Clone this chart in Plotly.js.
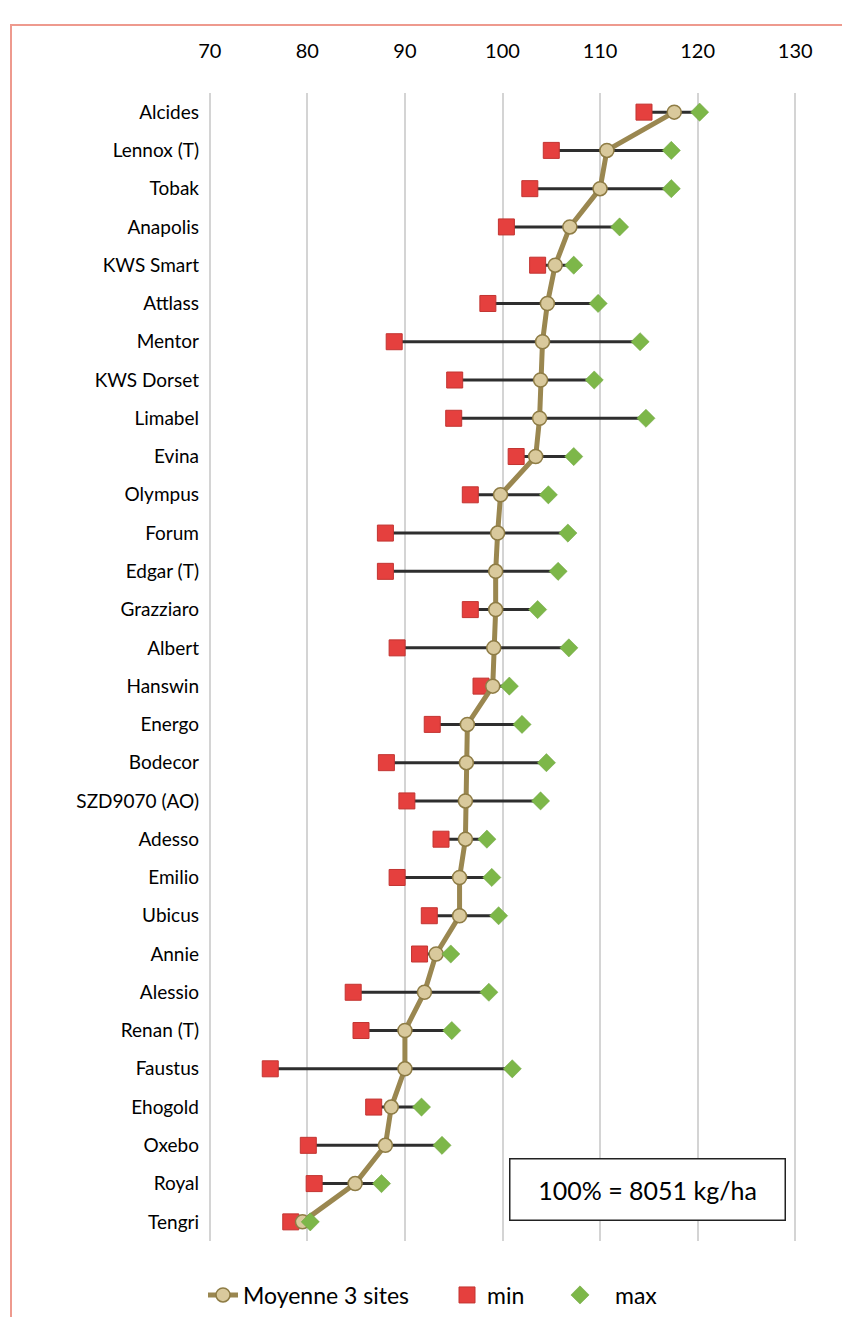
<!DOCTYPE html>
<html>
<head>
<meta charset="utf-8">
<script src="https://cdn.plot.ly/plotly-3.0.1.min.js"></script>
<style>
  html, body { margin: 0; padding: 0; background: #ffffff; }
  #wrap { position: relative; width: 842px; height: 1317px; overflow: hidden; }
  #chart { position: absolute; left: 0; top: 0; width: 842px; height: 1317px; }
  #frame { position: absolute; left: 10px; top: 24px; width: 900px; height: 1400px;
           border-left: 2px solid #EE9A8E; border-top: 2px solid #EE9A8E; pointer-events: none; }
</style>
</head>
<body>
<div id="wrap">
  <div id="chart"></div>
  <div id="frame"></div>
</div>
<script>
const varieties = ['Alcides','Lennox (T)','Tobak','Anapolis','KWS Smart','Attlass','Mentor','KWS Dorset','Limabel','Evina','Olympus','Forum','Edgar (T)','Grazziaro','Albert','Hanswin','Energo','Bodecor','SZD9070 (AO)','Adesso','Emilio','Ubicus','Annie','Alessio','Renan (T)','Faustus','Ehogold','Oxebo','Royal','Tengri'];
const meanVals = [117.6,110.7,110.0,106.9,105.4,104.6,104.1,103.9,103.8,103.4,99.8,99.5,99.3,99.3,99.1,99.0,96.4,96.3,96.2,96.2,95.6,95.6,93.2,92.0,90.0,90.0,88.6,88.0,84.9,79.5];
const minVals = [114.5,105.0,102.8,100.4,103.6,98.5,88.9,95.1,95.0,101.4,96.7,88.0,88.0,96.7,89.2,97.8,92.8,88.1,90.2,93.7,89.2,92.5,91.5,84.7,85.5,76.2,86.8,80.1,80.7,78.3];
const maxVals = [120.2,117.3,117.3,112.0,107.3,109.8,114.1,109.4,114.7,107.3,104.7,106.7,105.7,103.6,106.8,100.7,102.0,104.5,103.9,98.4,98.9,99.6,94.7,98.6,94.8,101.0,91.7,93.8,87.6,80.3];
const xTicks = [70,80,90,100,110,120,130];
const noteText = '100% = 8051 kg/ha';
const seriesNames = ['Moyenne 3 sites','min','max'];

const FONT = 'Lato, "Open Sans", sans-serif';

// range connectors (min -> max) built from the data arrays
const segX = [], segY = [];
varieties.forEach((v, i) => { segX.push(minVals[i], maxVals[i], null); segY.push(v, v, null); });

const traces = [
  { type: 'scatter', mode: 'lines', x: segX, y: segY, showlegend: false, hoverinfo: 'skip',
    line: { color: '#2e2e2e', width: 3 } },
  { type: 'scatter', mode: 'markers', name: seriesNames[1], x: minVals, y: varieties, legend: 'legend2',
    marker: { symbol: 'square', size: 16, color: '#E5403E', line: { color: '#C23431', width: 1 } } },
  { type: 'scatter', mode: 'lines+markers', name: seriesNames[0], x: meanVals, y: varieties, legend: 'legend',
    line: { color: '#9A8750', width: 5 },
    marker: { symbol: 'circle', size: 14, color: '#D9C99C', line: { color: '#8E7C45', width: 1.5 } } },
  { type: 'scatter', mode: 'markers', name: seriesNames[2], x: maxVals, y: varieties, legend: 'legend3',
    marker: { symbol: 'diamond', size: 14, color: '#7DB749', line: { color: '#6EA23F', width: 0.5 } } }
];

// plot spans 69..131 so that the 70 and 130 gridlines are drawn; 9.75 px per unit
const PX = 9.75;
const legFont = { family: FONT, size: 23, color: '#000' };
const layout = {
  width: 842, height: 1317,
  margin: { l: 210 - PX, r: 47 - PX, t: 93, b: 76 },
  paper_bgcolor: '#ffffff', plot_bgcolor: '#ffffff',
  font: { family: FONT, color: '#000' },
  xaxis: {
    side: 'top', range: [69, 131], tickvals: xTicks, ticktext: xTicks.map(String),
    showgrid: true, gridcolor: '#D4D4D4', gridwidth: 2, zeroline: false, showline: false,
    ticks: '', ticklabelstandoff: 30, tickfont: { family: FONT, size: 20, color: '#000' }, fixedrange: true
  },
  yaxis: {
    type: 'category', categoryorder: 'array', categoryarray: varieties,
    range: [varieties.length - 0.5, -0.5],
    showgrid: false, zeroline: false, showline: false, ticks: '', ticklabelstandoff: 9 + PX,
    tickfont: { family: FONT, size: 19, color: '#000' }, fixedrange: true
  },
  legend:  { orientation: 'h', xref: 'container', yref: 'container', x: 203/842, y: 1 - 1295/1317,
             xanchor: 'left', yanchor: 'middle', font: legFont, bgcolor: 'rgba(0,0,0,0)', borderwidth: 0 },
  legend2: { orientation: 'h', xref: 'container', yref: 'container', x: 447/842, y: 1 - 1295/1317,
             xanchor: 'left', yanchor: 'middle', font: legFont, bgcolor: 'rgba(0,0,0,0)', borderwidth: 0 },
  legend3: { orientation: 'h', xref: 'container', yref: 'container', x: 545/842, y: 1 - 1295/1317,
             xanchor: 'left', yanchor: 'middle', font: legFont, bgcolor: 'rgba(0,0,0,0)', borderwidth: 0, itemwidth: 60 },
  annotations: [{
    xref: 'x', yref: 'paper', x: 114.9, y: (1241 - 1189) / 1148,
    xanchor: 'center', yanchor: 'middle', showarrow: false, text: noteText,
    font: { family: FONT, size: 25, color: '#000' },
    width: 272, height: 58, bordercolor: '#222', borderwidth: 1.5, bgcolor: '#ffffff'
  }],
  showlegend: true
};

Plotly.newPlot('chart', traces, layout, { displayModeBar: false, staticPlot: true });
</script>
</body>
</html>
